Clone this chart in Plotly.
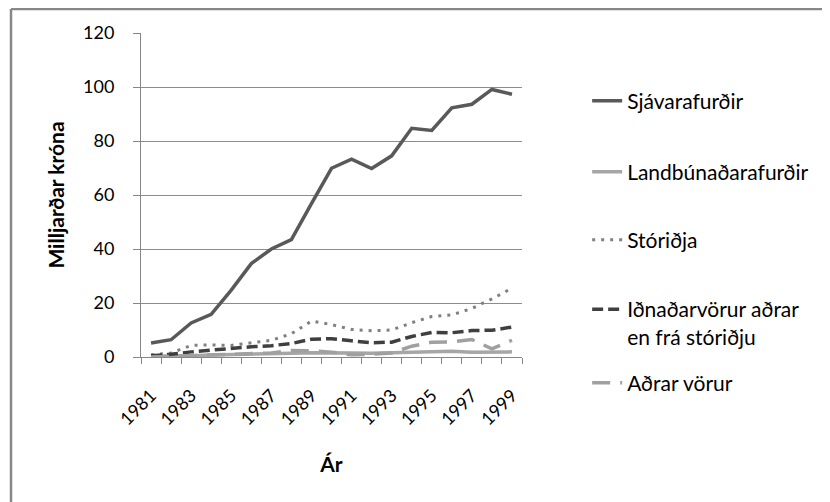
import plotly.graph_objects as go

years = list(range(1981, 2000))
sjavarafurdir = [5.2, 6.4, 12.6, 15.8, 24.8, 34.6, 40.0, 43.5, 56.8, 69.9, 73.3, 69.8, 74.5, 84.7, 83.9, 92.3, 93.6, 99.1, 97.3]
landbunadar = [0.3, 0.3, 0.5, 0.7, 0.8, 1.0, 1.2, 1.4, 1.6, 1.7, 1.5, 1.4, 1.5, 1.7, 1.9, 2.1, 1.8, 1.9, 1.9]
storidja = [0.8, 1.5, 4.3, 4.5, 4.3, 5.2, 6.2, 8.6, 13.3, 12.0, 10.2, 9.7, 10.0, 12.7, 15.0, 15.6, 18.0, 21.5, 25.5]
idnadarvorur = [0.5, 1.0, 1.9, 2.5, 3.4, 3.8, 4.2, 5.0, 6.6, 6.8, 6.0, 5.3, 5.5, 7.6, 9.1, 9.0, 9.8, 9.9, 11.1]
adrar = [0.0, 0.2, 0.5, 0.7, 0.8, 1.0, 1.5, 2.4, 2.3, 1.8, 0.8, 1.0, 1.5, 4.0, 5.5, 5.6, 6.5, 3.0, 6.2]

names = ["Sjávarafurðir", "Landbúnaðarafurðir", "Stóriðja",
         "Iðnaðarvörur aðrar<br>en frá stóriðju", "Aðrar vörur"]
series = [sjavarafurdir, landbunadar, storidja, idnadarvorur, adrar]
colors = ["#595959", "#a6a6a6", "#808080", "#3f3f3f", "#a0a0a0"]
dashes = ["solid", "solid", "3px,6px", "11px,5px", "18px,10px"]
widths = [3.5, 3.5, 3.0, 3.5, 3.5]
legend_ids = ["legend", "legend2", "legend3", "legend4", "legend5"]

FONT = "Lato, 'Open Sans', sans-serif"
FS = 21
TFS = 18

fig = go.Figure()
for name, vals, c, d, w, lg in zip(names, series, colors, dashes, widths, legend_ids):
    fig.add_trace(go.Scatter(x=years, y=vals, mode="lines", name=name,
                             line=dict(color=c, dash=d, width=w),
                             legend=lg))

# target screen plot area: x 141..522, y 33..357 (page has 8px body offset)
OFF = 8
def ly(py):
    return (357 - py) / 324.0
def lxp(px):
    return (px - 141) / 381.0

lx = 1.171
leg_common = dict(x=lx, xanchor="left", bgcolor="rgba(0,0,0,0)",
                  font=dict(family=FONT, size=FS, color="#000000"))
fig.update_layout(
    legend=dict(y=ly(101), yanchor="middle", **leg_common),
    legend2=dict(y=ly(172), yanchor="middle", **leg_common),
    legend3=dict(y=ly(240), yanchor="middle", **leg_common),
    legend4=dict(y=ly(289), yanchor="top", valign="top", **leg_common),
    legend5=dict(y=ly(383), yanchor="middle", **leg_common),
)

fig.update_layout(
    width=830, height=502,
    margin=dict(l=141 - OFF, r=830 - 522 + OFF, t=33 - OFF, b=502 - 357 + OFF, autoexpand=False),
    paper_bgcolor="white", plot_bgcolor="white",
    showlegend=True,
    font=dict(family=FONT, size=FS, color="#000000"),
    xaxis=dict(
        range=[1980.5, 1999.5],
        tickmode="array", tickvals=years[::2], ticktext=[str(y) for y in years[::2]],
        tickangle=-45, ticks="", showgrid=False,
        showline=True, linecolor="#868686", linewidth=1,
        minor=dict(tick0=1980.5, dtick=1, ticks="outside", ticklen=6,
                   tickcolor="#868686", showgrid=False),
        ticklabelstandoff=20, tickfont=dict(size=TFS),
        title=dict(text="<b>Ár</b>", font=dict(family=FONT, size=FS), standoff=28),
        zeroline=False, automargin=False,
    ),
    yaxis=dict(
        range=[0, 120], dtick=20, tick0=0,
        ticks="outside", ticklen=7, tickcolor="#868686",
        showgrid=True, gridcolor="#8c8c8c", gridwidth=1,
        showline=True, linecolor="#868686", linewidth=1,
        zeroline=False, ticklabelstandoff=15, automargin=False,
        tickfont=dict(size=TFS),
        title=dict(text="<b>Milljarðar króna</b>", font=dict(family=FONT, size=FS), standoff=12),
    ),
)

fig.add_shape(type="line", xref="paper", yref="paper",
              x0=lxp(11), x1=2.0, y0=ly(9), y1=ly(9),
              line=dict(color="#888888", width=2.5))
fig.add_shape(type="line", xref="paper", yref="paper",
              x0=lxp(11), x1=lxp(11), y0=ly(9), y1=-1.0,
              line=dict(color="#888888", width=2.5))

fig.write_html("out.html")
